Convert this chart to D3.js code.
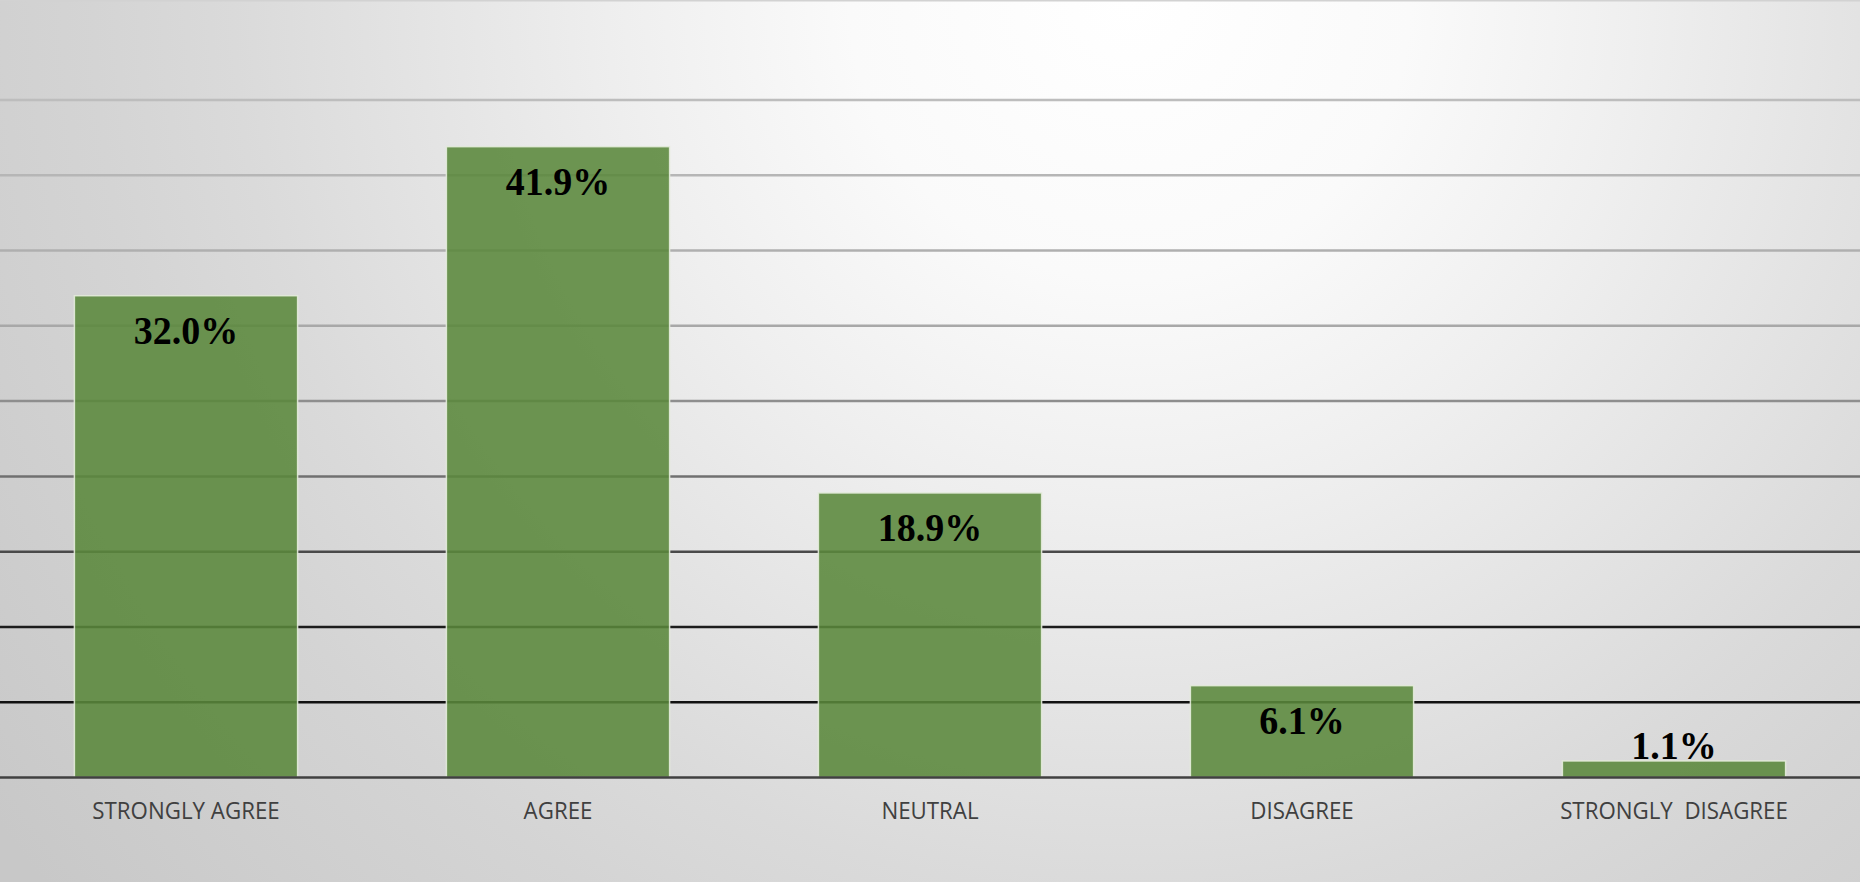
<!DOCTYPE html>
<html>
<head>
<meta charset="utf-8">
<script src="https://cdn.jsdelivr.net/npm/d3@7"></script>
<style>
  html, body { margin: 0; padding: 0; background: #ffffff; }
  svg { display: block; }
</style>
</head>
<body>
<svg id="chart" width="1860" height="882"></svg>
<script>
// Survey response shares
const categories = ["STRONGLY AGREE", "AGREE", "NEUTRAL", "DISAGREE", "STRONGLY  DISAGREE"];
const shares = [32.0, 41.9, 18.9, 6.1, 1.1];
const gridValues = [5, 10, 15, 20, 25, 30, 35, 40, 45];

const W = 1860, H = 882;
const svg = d3.select("#chart");
const defs = svg.append("defs");

// Soft radial backdrop, brightest near the top, right of centre
const bg = defs.append("radialGradient")
  .attr("id", "bgGrad")
  .attr("gradientUnits", "userSpaceOnUse")
  .attr("cx", 1130).attr("cy", 0).attr("r", 1400);
[[0, "#ffffff"], [0.2, "#fafafa"], [0.36, "#efefef"], [0.64, "#dadada"], [0.74, "#d4d4d4"], [1, "#c8c8c8"]]
  .forEach(([o, c]) => bg.append("stop").attr("offset", o).attr("stop-color", c));

svg.append("rect").attr("width", W).attr("height", H).attr("fill", "url(#bgGrad)");
svg.append("line").attr("x1", 0).attr("x2", W).attr("y1", 0.75).attr("y2", 0.75)
  .attr("stroke", "#d2d2d2").attr("stroke-width", 1.5);

const x = d3.scaleBand().domain(categories).range([0, W]).paddingInner(0.4).paddingOuter(0.2);
const y = d3.scaleLinear().domain([0, 45]).range([777.5, 100]);

// Gridlines fade from near-black at the bottom to light grey at the top
const gridColor = d3.scaleLinear()
  .domain([5, 10, 15, 20, 25, 30, 45])
  .range(["#111111", "#1c1c1c", "#4a4a4a", "#707070", "#8e8e8e", "#a8a8a8", "#bdbdbd"]);

svg.append("g").selectAll("line").data(gridValues).join("line")
  .attr("x1", 0).attr("x2", W)
  .attr("y1", d => y(d)).attr("y2", d => y(d))
  .attr("stroke", d => gridColor(d))
  .attr("stroke-width", 2.5);

// Bars
svg.append("g").selectAll("rect").data(shares).join("rect")
  .attr("x", (d, i) => x(categories[i]))
  .attr("width", x.bandwidth())
  .attr("y", d => y(d))
  .attr("height", d => y(0) - y(d))
  .attr("fill", "#5a873b")
  .attr("fill-opacity", 0.88)
  .attr("stroke", "#e4ecdc")
  .attr("stroke-opacity", 0.9)
  .attr("stroke-width", 1.5);

// Category axis
const xAxis = svg.append("g")
  .attr("transform", `translate(0,${y(0)})`)
  .call(d3.axisBottom(x).tickSize(0).tickPadding(0));
xAxis.select(".domain").attr("stroke", "#404040").attr("stroke-width", 2.5).attr("d", `M0,0H${W}`);
xAxis.selectAll(".tick text")
  .attr("y", 41.5)
  .attr("dy", 0)
  .style("white-space", "pre")
  .attr("fill", "#404040")
  .attr("font-family", "'Open Sans', sans-serif")
  .attr("font-size", 23)
  .attr("transform", "scale(0.97,1)");

// Value labels, inside the bar top when there is room, otherwise just above
svg.append("g").selectAll("text").data(shares).join("text")
  .attr("transform", (d, i) => {
    const cx = x(categories[i]) + x.bandwidth() / 2;
    const ty = (y(0) - y(d) > 60) ? y(d) + 48 : y(d) - 2;
    return `translate(${cx},${ty}) scale(1,1.08)`;
  })
  .attr("text-anchor", "middle")
  .attr("font-family", "'Liberation Serif', 'Times New Roman', serif")
  .attr("font-weight", "bold")
  .attr("font-size", 38)
  .attr("fill", "#000000")
  .text(d => d.toFixed(1) + "%");
</script>
</body>
</html>
